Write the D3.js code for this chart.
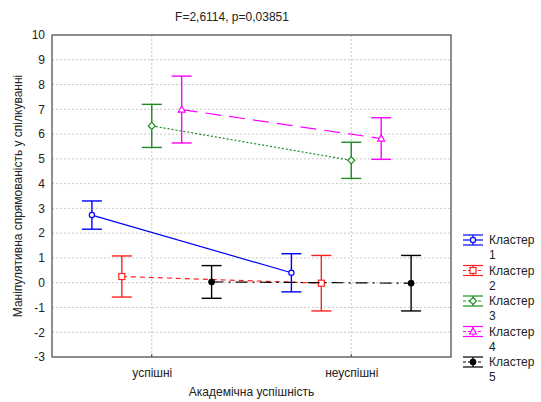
<!DOCTYPE html>
<html>
<head>
<meta charset="utf-8">
<script src="https://cdn.jsdelivr.net/npm/d3@7"></script>
<style>
  html, body { margin: 0; padding: 0; background: #fff; }
  svg { display: block; font-family: "Liberation Sans", Arial, sans-serif; }
</style>
</head>
<body>
<svg id="chart" width="541" height="402"></svg>
<script>
// ---- data ----
const titleText = "F=2,6114, p=0,03851";
const categories = ["успішні", "неуспішні"];
const clusterNames = ["Кластер 1", "Кластер 2", "Кластер 3", "Кластер 4", "Кластер 5"];
const meanValues = [
  [2.73, 0.40],
  [0.25, -0.02],
  [6.33, 4.94],
  [6.99, 5.82],
  [0.03, -0.02]
];
const ciHalfWidth = [
  [0.57, 0.77],
  [0.83, 1.12],
  [0.87, 0.73],
  [1.35, 0.84],
  [0.66, 1.12]
];
const yTicks = [-3, -2, -1, 0, 1, 2, 3, 4, 5, 6, 7, 8, 9, 10];
const xAxisTitle = "Академічна успішність";
const yAxisTitle = "Маніпулятивна спрямованість у спілкуванні";

// ---- styles ----
const colors = ["#0000ff", "#ff2020", "#1e8c1e", "#ff00ff", "#000000"];
const dashes = [null, "5,4", "2,2", "16,8", "12,5,2,5"];
const markers = ["circle", "square", "diamond", "triangle", "dot"];

const svg = d3.select("#chart");
const m = { left: 52, right: 451, top: 35, bottom: 357 };

const x = d3.scaleLinear().domain([0.5, 2.5]).range([m.left, m.right]);
const y = d3.scaleLinear().domain([-3, 10]).range([m.bottom, m.top]);
const offsetUnit = 0.15;

// grid
const grid = svg.append("g");
grid.selectAll("line.h").data(yTicks.filter(t => t > -3 && t < 10)).enter().append("line")
  .attr("x1", m.left).attr("x2", m.right)
  .attr("y1", d => y(d)).attr("y2", d => y(d))
  .attr("stroke", "#c8c8c8").attr("stroke-dasharray", "2,2").attr("stroke-width", 1);
grid.selectAll("line.v").data(categories).enter().append("line")
  .attr("x1", (d, i) => x(i + 1)).attr("x2", (d, i) => x(i + 1))
  .attr("y1", m.top).attr("y2", m.bottom)
  .attr("stroke", "#c8c8c8").attr("stroke-dasharray", "2,2").attr("stroke-width", 1);

// frame
svg.append("rect")
  .attr("x", m.left).attr("y", m.top)
  .attr("width", m.right - m.left).attr("height", m.bottom - m.top)
  .attr("fill", "none").attr("stroke", "#444").attr("stroke-width", 1.2);

// y axis
const yAxis = d3.axisLeft(y).tickValues(yTicks).tickSize(0).tickPadding(7).tickFormat(d3.format("d"));
const gy = svg.append("g").attr("transform", `translate(${m.left},0)`).call(yAxis);
gy.select(".domain").remove();
gy.selectAll("text").attr("font-size", 12).attr("fill", "#222")
  .attr("font-family", "'Liberation Sans', Arial, sans-serif")
  .text(d => d < 0 ? "-" + Math.abs(d) : d);

// x axis
const xAxis = d3.axisBottom(x).tickValues([1, 2]).tickSize(0).tickPadding(11)
  .tickFormat((d, i) => categories[i]);
const gx = svg.append("g").attr("transform", `translate(0,${m.bottom})`).call(xAxis);
gx.select(".domain").remove();
gx.selectAll("text").attr("font-size", 12).attr("fill", "#222")
  .attr("font-family", "'Liberation Sans', Arial, sans-serif");
// small tick marks at categories
svg.selectAll("line.xt").data(categories).enter().append("line")
  .attr("x1", (d, i) => x(i + 1)).attr("x2", (d, i) => x(i + 1))
  .attr("y1", m.bottom).attr("y2", m.bottom - 3).attr("stroke", "#444");

// titles
svg.append("text").attr("x", 232).attr("y", 21).attr("text-anchor", "middle")
  .attr("font-size", 12).attr("fill", "#222").text(titleText);
svg.append("text").attr("x", (m.left + m.right) / 2).attr("y", 396).attr("text-anchor", "middle")
  .attr("font-size", 12).attr("fill", "#222").text(xAxisTitle);
svg.append("text").attr("transform", `translate(22,${(m.top + m.bottom) / 2}) rotate(-90)`)
  .attr("text-anchor", "middle").attr("font-size", 12).attr("fill", "#222").text(yAxisTitle);

function drawMarker(g, type, cx, cy, color) {
  if (type === "circle") {
    g.append("circle").attr("cx", cx).attr("cy", cy).attr("r", 2.6)
      .attr("fill", "#fff").attr("stroke", color).attr("stroke-width", 1.2);
  } else if (type === "square") {
    g.append("rect").attr("x", cx - 3).attr("y", cy - 3).attr("width", 6).attr("height", 6)
      .attr("fill", "#fff").attr("stroke", color).attr("stroke-width", 1.2);
  } else if (type === "diamond") {
    g.append("path").attr("d", `M${cx},${cy - 3.5}L${cx + 3.5},${cy}L${cx},${cy + 3.5}L${cx - 3.5},${cy}Z`)
      .attr("fill", "#fff").attr("stroke", color).attr("stroke-width", 1.2);
  } else if (type === "triangle") {
    g.append("path").attr("d", `M${cx},${cy - 3.5}L${cx + 3.5},${cy + 2.5}L${cx - 3.5},${cy + 2.5}Z`)
      .attr("fill", "#fff").attr("stroke", color).attr("stroke-width", 1.2);
  } else {
    g.append("circle").attr("cx", cx).attr("cy", cy).attr("r", 3)
      .attr("fill", color).attr("stroke", color);
  }
}

// series
const capHalf = 10;
clusterNames.forEach((name, i) => {
  const g = svg.append("g");
  const off = (i - 2) * offsetUnit;
  const pts = meanValues[i].map((v, j) => [x(j + 1 + off), y(v)]);
  g.append("path").attr("d", d3.line()(pts))
    .attr("fill", "none").attr("stroke", colors[i]).attr("stroke-width", 1.2)
    .attr("stroke-dasharray", dashes[i]);
  meanValues[i].forEach((v, j) => {
    const cx = x(j + 1 + off);
    const hi = y(v + ciHalfWidth[i][j]);
    const lo = y(v - ciHalfWidth[i][j]);
    g.append("line").attr("x1", cx).attr("x2", cx).attr("y1", hi).attr("y2", lo)
      .attr("stroke", colors[i]).attr("stroke-width", 1.4);
    [hi, lo].forEach(yy => g.append("line")
      .attr("x1", cx - capHalf).attr("x2", cx + capHalf).attr("y1", yy).attr("y2", yy)
      .attr("stroke", colors[i]).attr("stroke-width", 1.4));
    drawMarker(g, markers[i], cx, y(v), colors[i]);
  });
});

// legend
const legX = 463, legY0 = 240, legStep = 30.5;
clusterNames.forEach((name, i) => {
  const g = svg.append("g");
  const cy = legY0 + i * legStep;
  const c = colors[i];
  [cy - 5, cy + 5].forEach(yy => g.append("line").attr("x1", legX).attr("x2", legX + 20)
    .attr("y1", yy).attr("y2", yy).attr("stroke", c).attr("stroke-width", 1.2));
  g.append("line").attr("x1", legX).attr("x2", legX + 20).attr("y1", cy).attr("y2", cy)
    .attr("stroke", c).attr("stroke-width", 1.2).attr("stroke-dasharray", dashes[i] ? "3,2" : null);
  g.append("line").attr("x1", legX + 10).attr("x2", legX + 10).attr("y1", cy - 5).attr("y2", cy + 5)
    .attr("stroke", c).attr("stroke-width", 1.2);
  drawMarker(g, markers[i], legX + 10, cy, c);
  const parts = name.split(" ");
  const t = g.append("text").attr("x", legX + 26).attr("y", cy + 4).attr("font-size", 12).attr("fill", "#222");
  t.append("tspan").attr("x", legX + 26).text(parts[0]);
  t.append("tspan").attr("x", legX + 26).attr("dy", 15).text(parts[1]);
});
</script>
</body>
</html>
